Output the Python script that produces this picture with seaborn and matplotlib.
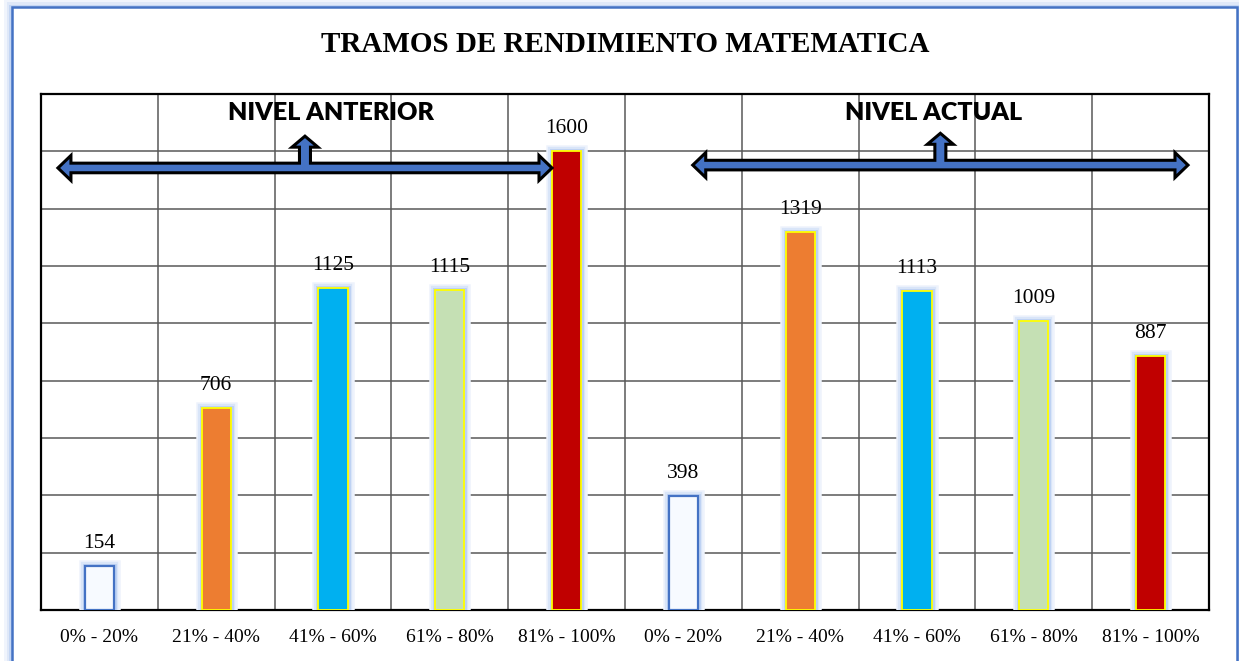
import matplotlib
matplotlib.use('Agg')
import matplotlib.pyplot as plt
import matplotlib.patheffects as pe
from matplotlib.patches import Polygon, Rectangle
import seaborn as sns
import pandas as pd

# Data
tramos = ['0% - 20%', '21% - 40%', '41% - 60%', '61% - 80%', '81% - 100%']
nivel_anterior = [154, 706, 1125, 1115, 1600]
nivel_actual = [398, 1319, 1113, 1009, 887]
tramo_colors = ['#FFFFFF', '#ED7D31', '#00B0F0', '#C5E0B4', '#C00000']

labels = tramos + tramos
values = nivel_anterior + nivel_actual
df = pd.DataFrame({'pos': list(range(len(values))), 'valor': values})

sns.set_style('white')
fig = plt.figure(figsize=(12.39, 6.61), dpi=100)
W, H = 1239, 661
ax = fig.add_axes([41 / W, (H - 610) / H, 1168 / W, 516 / H])

sns.barplot(data=df, x='pos', y='valor', hue='pos', palette=tramo_colors * 2,
            saturation=1, legend=False, width=0.25, ax=ax, zorder=3)

glow = [pe.Stroke(linewidth=9, foreground='#eef3fc'),
        pe.Stroke(linewidth=6, foreground='#d9e5f8'),
        pe.Stroke(linewidth=3.5, foreground='#bcd1f3'),
        pe.Normal()]
for i, bar in enumerate(ax.patches):
    if i % 5 == 0:
        bar.set_edgecolor('#4472C4')
        bar.set_linewidth(1.6)
        bar.set_facecolor('#f7faff')
    else:
        bar.set_edgecolor('#FFFF00')
        bar.set_linewidth(1.3)
    bar.set_path_effects(glow)

# value labels
for i, v in enumerate(values):
    ax.text(i, v + 45, str(v), ha='center', va='bottom',
            family='Liberation Serif', fontsize=15.5, color='black', zorder=5)

ax.set_xlim(-0.5, 9.5)
ax.set_ylim(0, 1800)
ax.set_yticks(range(0, 1801, 200))
ax.set_yticklabels([])
ax.set_xticks([i + 0.5 for i in range(9)], minor=True)
ax.set_xticks(range(10))
ax.set_xticklabels(labels, family='Liberation Serif', fontsize=14, color='black')
ax.tick_params(axis='x', which='both', length=0, pad=14)
ax.tick_params(axis='y', length=0)
ax.grid(axis='y', color='#595959', lw=1.1, zorder=0)
ax.grid(axis='x', which='minor', color='#595959', lw=1.1, zorder=0)
ax.set_axisbelow(True)
ax.set_xlabel('')
ax.set_ylabel('')
for s in ax.spines.values():
    s.set_visible(True)
    s.set_color('black')
    s.set_linewidth(1.6)

# arrows with an up-pointing branch
def bracket_arrow(x0, x1, xup, y):
    fig.canvas.draw()
    (px0, py), (px1, _), (pxu, _) = ax.transData.transform([(x0, y), (x1, y), (xup, y)])
    t, hh, hl = 4.8, 12.5, 13
    st, uh, ul = 5.5, 13, 11
    tip_y = py + t + 27
    pts = [
        (px0, py), (px0 + hl, py + hh), (px0 + hl, py + t),
        (pxu - st, py + t), (pxu - st, tip_y - ul), (pxu - uh, tip_y - ul),
        (pxu, tip_y), (pxu + uh, tip_y - ul), (pxu + st, tip_y - ul),
        (pxu + st, py + t), (px1 - hl, py + t), (px1 - hl, py + hh),
        (px1, py), (px1 - hl, py - hh), (px1 - hl, py - t),
        (px0 + hl, py - t), (px0 + hl, py - hh),
    ]
    poly = Polygon(pts, closed=True, transform=None, facecolor='#4472C4',
                   edgecolor='black', linewidth=2.2, joinstyle='miter', zorder=6)
    fig.add_artist(poly)

bracket_arrow(-0.355, 3.875, 1.76, 1542)
bracket_arrow(5.08, 9.32, 7.2, 1552)

ax.text(1.98, 1735, 'NIVEL ANTERIOR', ha='center', va='center', color='black',
        family='Lato', fontweight='heavy', fontsize=18, zorder=7)
ax.text(7.14, 1735, 'NIVEL ACTUAL', ha='center', va='center', color='black',
        family='Lato', fontweight='heavy', fontsize=18, zorder=7)

fig.text(625 / W, 1 - 44 / H, 'TRAMOS DE RENDIMIENTO MATEMATICA', ha='center',
         va='center', family='Liberation Serif', fontweight='bold', fontsize=21,
         color='black')

# outer frame with a soft glow outside
fx0, fx1, fy_top = 12, 1237, 7.5
for off, col in [(8, '#f0f4fc'), (5.5, '#dfe8f8'), (3, '#c4d6f4')]:
    fig.add_artist(Rectangle(((fx0 - off) / W, -0.05), (fx1 - fx0 + 2 * off) / W,
                             1.05 - (fy_top - off) / H, transform=fig.transFigure,
                             facecolor=col, edgecolor='none', zorder=-3))
fig.add_artist(Rectangle((fx0 / W, -0.05), (fx1 - fx0) / W, 1.05 - fy_top / H,
                         transform=fig.transFigure, facecolor='white',
                         edgecolor='#4472C4', linewidth=1.8, zorder=-2))

fig.savefig('out.png', dpi=100)
